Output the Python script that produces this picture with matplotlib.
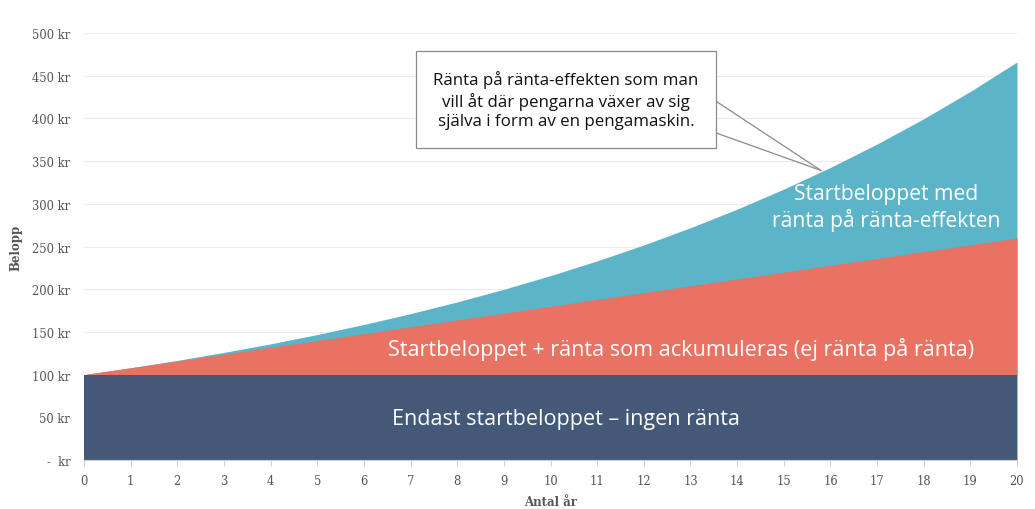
import matplotlib.pyplot as plt
from matplotlib.patches import Rectangle
from matplotlib.ticker import FuncFormatter

years = list(range(0, 21))
start_amount = [100] * 21
simple_interest = [100, 108, 116, 124, 132, 140, 148, 156, 164, 172, 180,
                   188, 196, 204, 212, 220, 228, 236, 244, 252, 260]
compound_interest = [100.0, 108.0, 116.6, 126.0, 136.0, 146.9, 158.7, 171.4,
                     185.1, 199.9, 215.9, 233.2, 251.8, 272.0, 293.7, 317.2,
                     342.6, 370.0, 399.6, 431.6, 466.1]

c_base = "#445977"
c_simple = "#ea7262"
c_comp = "#5bb4c8"

fig = plt.figure(figsize=(10.35, 5.1), dpi=100)
ax = fig.add_axes([0.0812, 0.0961, 0.9014, 0.8372])

ax.fill_between(years, 0, compound_interest, color=c_comp, lw=0)
ax.fill_between(years, 0, simple_interest, color=c_simple, lw=0)
ax.fill_between(years, 0, start_amount, color=c_base, lw=0)

ax.set_xlim(0, 20)
ax.set_ylim(0, 500)
ax.set_xticks(years)
ax.set_yticks(range(0, 501, 50))
ax.yaxis.set_major_formatter(FuncFormatter(lambda v, p: "-  kr" if v == 0 else f"{int(v)} kr"))
ax.grid(axis="y", color="#ececec", lw=0.8)
ax.set_axisbelow(True)
for s in ["top", "right", "left"]:
    ax.spines[s].set_visible(False)
ax.spines["bottom"].set_color("#d0d0d0")
ax.tick_params(axis="y", length=0, pad=10, labelsize=8.3, labelcolor="#555555")
ax.tick_params(axis="x", length=4, color="#d0d0d0", pad=6, labelsize=8.3, labelcolor="#555555")
for lab in ax.get_xticklabels() + ax.get_yticklabels():
    lab.set_family("DejaVu Serif")

ax.set_xlabel("Antal år", family="DejaVu Serif", fontweight="bold", fontsize=8.5,
              color="#555555", labelpad=6)
ax.set_ylabel("Belopp", family="DejaVu Serif", fontweight="bold", fontsize=8.5,
              color="#555555")
ax.yaxis.set_label_coords(-0.066, 0.5)

sans = "Open Sans"
ax.text(12.8, 131, "Startbeloppet + ränta som ackumuleras (ej ränta på ränta)",
        ha="center", va="center", color="white", fontsize=15.6, family=sans)
ax.text(10.32, 48, "Endast startbeloppet – ingen ränta",
        ha="center", va="center", color="white", fontsize=15.5, family=sans)
ax.text(17.2, 296, "Startbeloppet med\nränta på ränta-effekten",
        ha="center", va="center", color="white", fontsize=15.2, family=sans,
        linespacing=1.2)

# callout box
ax.add_patch(Rectangle((7.12, 365), 6.43, 114, facecolor="white",
                       edgecolor="#8a8a8a", lw=0.9, clip_on=False, zorder=5))
ax.text(10.33, 422, "Ränta på ränta-effekten som man\nvill åt där pengarna växer av sig\nsjälva i form av en pengamaskin.",
        ha="center", va="center", fontsize=12.2, family=sans, color="#111111",
        linespacing=1.3, zorder=6)
ax.plot([13.55, 15.8], [420, 339], color="#8a8a8a", lw=0.9, zorder=4, clip_on=False)
ax.plot([13.55, 15.8], [383, 339], color="#8a8a8a", lw=0.9, zorder=4, clip_on=False)

fig.savefig("out.png", dpi=100)
